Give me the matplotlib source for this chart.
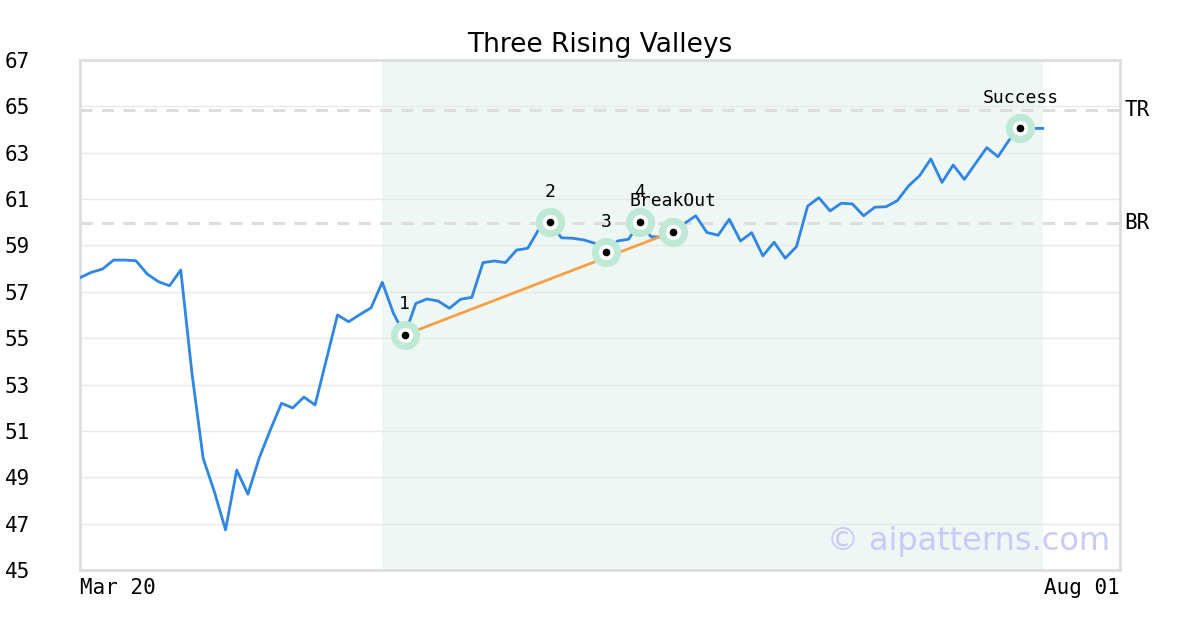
import matplotlib
matplotlib.use("Agg")
import matplotlib.pyplot as plt
import matplotlib.transforms as mtransforms

# price series (one value per session, index based x axis)
prices = [57.61, 57.84, 57.98, 58.37, 58.37, 58.34, 57.77, 57.44, 57.26, 57.94,
          53.49, 49.82, 48.38, 46.73, 49.31, 48.27, 49.82, 51.04, 52.19, 51.99,
          52.46, 52.12, 54.06, 56.00, 55.71, 56.02, 56.31, 57.41, 56.07, 55.14,
          56.50, 56.69, 56.60, 56.29, 56.68, 56.76, 58.26, 58.33, 58.26, 58.80,
          58.88, 59.71, 60.00, 59.33, 59.31, 59.24, 59.09, 58.70, 59.19, 59.27,
          60.00, 59.38, 59.36, 59.60, 59.95, 60.28, 59.56, 59.44, 60.13, 59.19,
          59.55, 58.55, 59.14, 58.45, 58.95, 60.70, 61.06, 60.49, 60.82, 60.79,
          60.28, 60.65, 60.67, 60.93, 61.56, 62.01, 62.73, 61.72, 62.47, 61.85,
          62.54, 63.22, 62.83, 63.55, 64.05, 64.05, 64.05]

# pattern points
point_idx = [29, 42, 47, 50, 53, 84]
point_labels = ["1", "2", "3", "4", "BreakOut", "Success"]
trend_idx = [29, 53]

levels = {"TR": 64.84, "BR": 59.98}
pattern_start = 27
date_labels = ["Mar 20", "Aug 01"]
x_end = 92.9
title = "Three Rising Valleys"

mono = "DejaVu Sans Mono"

fig = plt.figure(figsize=(12, 6.3), dpi=100)
ax = fig.add_axes([80 / 1200, 60 / 630, 1040 / 1200, 510 / 630])

x = list(range(len(prices)))

ax.axvspan(pattern_start, len(prices) - 1, color="#eff7f4", zorder=0, lw=0)

for name, lvl in levels.items():
    ax.axhline(lvl, color="#dddddd", lw=2.2, ls=(0, (4, 3)), zorder=1)
    ax.text(1.004, lvl, name, transform=mtransforms.blended_transform_factory(ax.transAxes, ax.transData),
            fontsize=15, family=mono, va="center", ha="left", color="black")

ax.plot(x, prices, color="#2e86e6", lw=2.0, zorder=3)

ax.plot(trend_idx, [prices[i] for i in trend_idx], color="#f6a043", lw=2.0, zorder=4)

px = point_idx
py = [prices[i] for i in point_idx]
ax.plot(px, py, ls="none", marker="o", ms=21, color="#bde9d5", mec="none", zorder=5)
ax.plot(px, py, ls="none", marker="o", ms=11, color="white", mec="none", zorder=6)
ax.plot(px, py, ls="none", marker="o", ms=5.5, color="black", mec="none", zorder=7)

for i, lab in zip(point_idx, point_labels):
    ax.annotate(lab, (i, prices[i]), xytext=(0, 22), textcoords="offset points",
                ha="center", va="center", fontsize=13, family=mono, zorder=8)

ax.set_xlim(0, x_end)
ax.set_ylim(45, 67)
ax.set_yticks(range(45, 68, 2))
ax.set_xticks([0, x_end])
ax.set_xticklabels(date_labels, family=mono, fontsize=15)
xl = ax.get_xticklabels()
xl[0].set_ha("left")
xl[1].set_ha("right")
for t in ax.get_yticklabels():
    t.set_family(mono)
    t.set_fontsize(15)
ax.tick_params(axis="y", length=0, pad=36)
ax.tick_params(axis="x", length=0, pad=6)
ax.grid(axis="y", color="#e8e8e8", lw=1)
ax.set_axisbelow(True)
for s in ax.spines.values():
    s.set_color("#dddddd")
    s.set_linewidth(2)

ax.set_title(title, fontsize=19, pad=6)

ax.text(0.9904, 0.055, "\u00a9 aipatterns.com", transform=ax.transAxes, ha="right", va="center",
        fontsize=23, color="#c9c9fa", zorder=9)

fig.savefig("out.png", dpi=100)
